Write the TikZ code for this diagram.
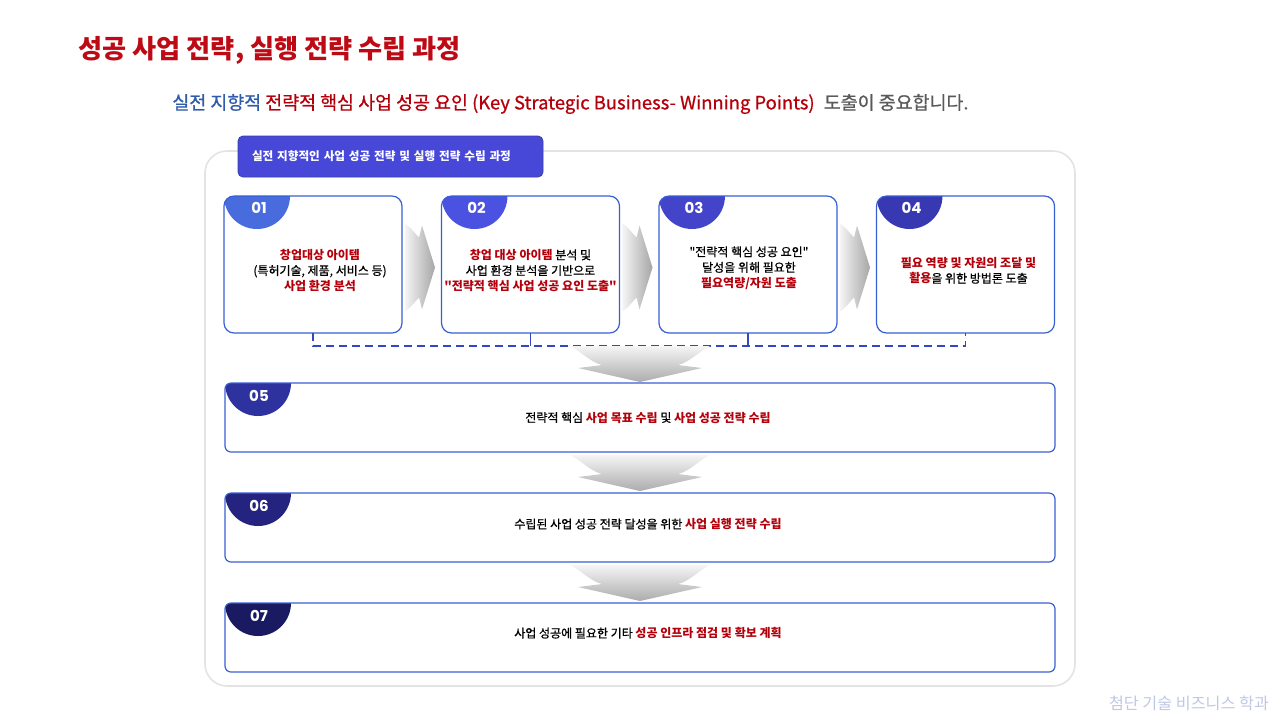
\documentclass[tikz,border=0pt]{standalone}
\usepackage{fontspec}
\setmainfont{Noto Sans CJK KR}
\newfontfamily\medfont{Noto Sans CJK KR}[FakeBold=0.8]
\newfontfamily\numfont{Poppins}
\usepackage{xcolor}
\definecolor{titlered}{RGB}{190,10,20}
\definecolor{keyred}{RGB}{180,0,10}
\definecolor{subblue}{RGB}{46,91,170}
\definecolor{subgray}{RGB}{90,90,90}
\definecolor{tabblue}{RGB}{72,72,216}
\definecolor{boxline}{RGB}{55,95,210}
\definecolor{bracketblue}{RGB}{50,70,200}
\definecolor{footblue}{RGB}{190,200,228}
\definecolor{badge1}{RGB}{72,108,222}
\definecolor{badge2}{RGB}{75,82,225}
\definecolor{badge3}{RGB}{68,68,202}
\definecolor{badge4}{RGB}{56,56,178}
\definecolor{badge5}{RGB}{46,50,158}
\definecolor{badge6}{RGB}{36,36,128}
\definecolor{badge7}{RGB}{26,26,98}
\newcommand\keyword[1]{\textcolor{keyred}{\normalfont\bfseries #1}}
\usepackage{tikz}
\usetikzlibrary{positioning,backgrounds}
\tikzset{
  step box/.style={draw=boxline, line width=0.6pt, rounded corners=5pt, inner sep=0pt, outer sep=0pt, minimum width=89pt, minimum height=68.5pt},
  wide box/.style={step box, rounded corners=3pt, minimum width=415pt, minimum height=34.5pt},
  step num/.style={text=white, font=\numfont\bfseries\fontsize{7.5}{9}\selectfont, inner sep=0pt},
  step text/.style={align=center, font=\medfont\fontsize{6}{7.8}\selectfont, inner sep=0pt},
  step bracket/.style={draw=bracketblue, line width=0.6pt, dash pattern=on 4pt off 2.5pt},
  step tick/.style={draw=bracketblue, line width=0.6pt},
  tab box/.style={draw=tabblue!80!black, fill=tabblue, rounded corners=2.5pt, text=white, align=left, font=\bfseries\fontsize{5.8}{7}\selectfont},
  down funnel/.pic={\shade[top color=gray!8, bottom color=gray!65] (-70,0) .. controls (-58,6) and (-50,16) .. (-38,19) -- (-62,22) -- (0,36) -- (62,22) -- (38,19) .. controls (50,16) and (58,6) .. (70,0) -- cycle;},
  right funnel/.pic={\shade[left color=gray!8, right color=gray!70] (0,-44) .. controls (6,-40) and (10,-34) .. (14,-30) -- (17,-42) -- (30,0) -- (17,42) -- (14,30) .. controls (10,34) and (6,40) .. (0,44) -- cycle;},
}

\begin{document}
\begin{tikzpicture}[x=0.5pt, y=-0.5pt]
  \useasboundingbox (0,0) rectangle (1280,720);
  \node[anchor=west, inner sep=0pt, text=titlered, font=\bfseries\fontsize{13.1}{15}\selectfont] (title) at (78,50) {성공 사업 전략, 실행 전략 수립 과정};
  \node[anchor=west, inner sep=0pt, font=\medfont\fontsize{9.2}{10}\selectfont] (sub) at (172,104) {\textcolor{subblue}{실전 지향적} \textcolor{keyred}{전략적 핵심 사업 성공 요인 (Key Strategic Business- Winning Points)}\hspace{0.5em}\textcolor{subgray}{도출이 중요합니다.}};
  \node[tab box, text width=138.5pt, minimum height=20.5pt, inner xsep=7pt] (tab) at (390.5,156.5) {실전 지향적인 사업 성공 전략 및 실행 전략 수립 과정};

  \node[step box] (s1) at (313,264.5) {};
  \node[step box] (s2) at (530.5,264.5) {};
  \node[step box] (s3) at (748,264.5) {};
  \node[step box] (s4) at (965.5,264.5) {};
  \node[wide box] (s5) at (640,417.5) {};
  \node[wide box] (s6) at (640,527.5) {};
  \node[wide box] (s7) at (640,637.5) {};

  \node[step num] (n1) at ([xshift=17.5pt,yshift=-6pt]s1.north west) {01};
  \node[step num] (n2) at ([xshift=17.5pt,yshift=-6pt]s2.north west) {02};
  \node[step num] (n3) at ([xshift=17.5pt,yshift=-6pt]s3.north west) {03};
  \node[step num] (n4) at ([xshift=17.5pt,yshift=-6pt]s4.north west) {04};
  \node[step num] (n5) at ([xshift=17pt,yshift=-6.5pt]s5.north west) {05};
  \node[step num] (n6) at ([xshift=17pt,yshift=-6.5pt]s6.north west) {06};
  \node[step num] (n7) at ([xshift=17pt,yshift=-6.5pt]s7.north west) {07};

  \node[step text] (t1) at ([xshift=3.5pt,yshift=-3pt]s1.center) {\keyword{창업대상 아이템}\\(특허기술, 제품, 서비스 등)\\\keyword{사업 환경 분석}};
  \node[step text] (t2) at ([yshift=-3pt]s2.center) {\keyword{창업 대상 아이템} 분석 및\\사업 환경 분석을 기반으로\\\keyword{\textquotedbl 전략적 핵심 사업 성공 요인 도출\textquotedbl}};
  \node[step text] (t3) at ([xshift=0.5pt,yshift=-1.75pt]s3.center) {\textquotedbl 전략적 핵심 성공 요인\textquotedbl\\달성을 위해 필요한\\\keyword{필요역량/자원 도출}};
  \node[step text] (t4) at ([xshift=1.5pt,yshift=-3pt]s4.center) {\keyword{필요 역량 및 자원의 조달 및}\\\keyword{활용}을 위한 방법론 도출};
  \node[step text] (t5) at ([xshift=4pt]s5.center) {전략적 핵심 \keyword{사업 목표 수립} 및 \keyword{사업 성공 전략 수립}};
  \node[step text] (t6) at ([xshift=4pt,yshift=1.75pt]s6.center) {수립된 사업 성공 전략 달성을 위한 \keyword{사업 실행 전략 수립}};
  \node[step text] (t7) at ([xshift=4pt,yshift=2.2pt]s7.center) {사업 성공에 필요한 기타 \keyword{성공 인프라 점검 및 확보 계획}};

  \pic at ([xshift=1.5pt,yshift=-1.5pt]s1.east) {right funnel};
  \pic at ([xshift=1.5pt,yshift=-1.5pt]s2.east) {right funnel};
  \pic at ([xshift=1.5pt,yshift=-1.5pt]s3.east) {right funnel};

  \coordinate (brk) at (640,346);
  \draw[step bracket] (s1.south) |- (s4.south |- brk) -- (s4.south);
  \draw[step tick] (s2.south) -- (s2.south |- brk);
  \draw[step tick] (s3.south) -- (s3.south |- brk);
  \pic at (brk) {down funnel};
  \pic at ([yshift=-1.5pt]s5.south) {down funnel};
  \pic at ([yshift=-1.5pt]s6.south) {down funnel};

  \node[text=footblue, font=\fontsize{8.1}{9}\selectfont] (foot) at (1189,703) {첨단 기술 비즈니스 학과};

  \begin{pgfonlayer}{background}
    \draw[draw=gray!22, line width=0.8pt, rounded corners=11pt] (205,151) rectangle (1075,686);
    \begin{scope}\clip[rounded corners=5pt] (s1.south west) rectangle (s1.north east); \fill[badge1] ([xshift=16.5pt]s1.north west) circle (16.5pt);\end{scope}
    \begin{scope}\clip[rounded corners=5pt] (s2.south west) rectangle (s2.north east); \fill[badge2] ([xshift=16.5pt]s2.north west) circle (16.5pt);\end{scope}
    \begin{scope}\clip[rounded corners=5pt] (s3.south west) rectangle (s3.north east); \fill[badge3] ([xshift=16.5pt]s3.north west) circle (16.5pt);\end{scope}
    \begin{scope}\clip[rounded corners=5pt] (s4.south west) rectangle (s4.north east); \fill[badge4] ([xshift=16.5pt]s4.north west) circle (16.5pt);\end{scope}
    \begin{scope}\clip[rounded corners=3pt] (s5.south west) rectangle (s5.north east); \fill[badge5] ([xshift=16.5pt]s5.north west) circle (16.5pt);\end{scope}
    \begin{scope}\clip[rounded corners=3pt] (s6.south west) rectangle (s6.north east); \fill[badge6] ([xshift=16.5pt]s6.north west) circle (16.5pt);\end{scope}
    \begin{scope}\clip[rounded corners=3pt] (s7.south west) rectangle (s7.north east); \fill[badge7] ([xshift=16.5pt]s7.north west) circle (16.5pt);\end{scope}
  \end{pgfonlayer}
\end{tikzpicture}
\end{document}
